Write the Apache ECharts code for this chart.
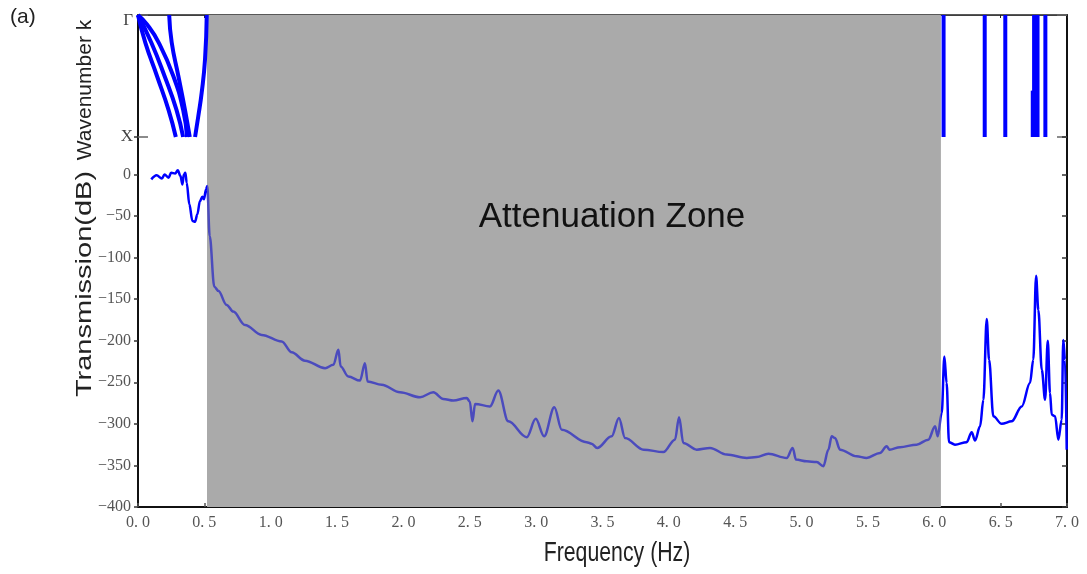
<!DOCTYPE html>
<html>
<head>
<meta charset="utf-8">
<script src="https://cdn.jsdelivr.net/npm/echarts@6/dist/echarts.min.js"></script>
<style>html,body{margin:0;padding:0;background:#fff;}#chart{width:1087px;height:574px;}</style>
</head>
<body>
<div id="chart"></div>
<script>
// ---- data ----
const xTicks = [0, 0.5, 1, 1.5, 2, 2.5, 3, 3.5, 4, 4.5, 5, 5.5, 6, 6.5, 7];
const yTicks = [0, -50, -100, -150, -200, -250, -300, -350, -400];
const kLabels = ['Γ', 'X'];
const attenuationZone = [0.52, 6.05];

// transmission [frequency Hz, dB]
const transmission = [
  [0.10,-6],[0.14,-1],[0.18,-5],[0.20,0],[0.23,-4],[0.25,2],[0.28,1],[0.30,5],[0.32,-2],
  [0.335,-12],[0.345,0],[0.357,2],[0.367,-10],[0.387,-36],[0.41,-56],[0.43,-57],[0.447,-48],
  [0.467,-32],[0.485,-27],[0.497,-30],[0.512,-18],[0.522,-14],[0.54,-74],[0.575,-135],
  [0.605,-140],[0.668,-157],[0.718,-165],[0.806,-181],[0.932,-193],[1.083,-201],[1.158,-214],
  [1.258,-224],[1.41,-233],[1.472,-229],[1.51,-211],[1.527,-231],[1.585,-243],[1.673,-248],
  [1.71,-227],[1.73,-249],[1.836,-253],[1.974,-262],[2.125,-268],[2.225,-262],[2.30,-270],
  [2.376,-272],[2.477,-269],[2.50,-273],[2.52,-297],[2.54,-276],[2.652,-279],[2.715,-260],
  [2.79,-297],[2.929,-316],[2.997,-294],[3.06,-315],[3.137,-280],[3.193,-307],[3.38,-322],
  [3.418,-324],[3.46,-329],[3.569,-315],[3.624,-293],[3.67,-317],[3.81,-331],[3.958,-334],
  [4.046,-319],[4.077,-292],[4.109,-323],[4.21,-331],[4.31,-329],[4.436,-337],[4.587,-341],
  [4.662,-340],[4.75,-336],[4.888,-341],[4.933,-329],[4.958,-343],[5.039,-345],[5.114,-346],
  [5.164,-351],[5.202,-331],[5.227,-315],[5.252,-317],[5.29,-331],[5.415,-339],[5.49,-341],
  [5.591,-335],[5.641,-327],[5.662,-331],[5.742,-328],[5.867,-325],[5.955,-319],[6.006,-303],
  [6.026,-315],[6.056,-287],[6.076,-219],[6.093,-251],[6.111,-322],[6.156,-325],[6.244,-322],
  [6.282,-310],[6.307,-320],[6.345,-303],[6.37,-271],[6.395,-174],[6.413,-223],[6.445,-291],
  [6.508,-300],[6.583,-297],[6.659,-279],[6.721,-251],[6.746,-223],[6.767,-122],[6.784,-163],
  [6.81,-235],[6.835,-271],[6.855,-200],[6.872,-263],[6.885,-289],[6.91,-291],[6.935,-319],
  [6.96,-295],[6.972,-199],[6.985,-223],[6.998,-331]
];

// band structure curves [frequency Hz, k (0 = Γ, 1 = X)]
const band1 = [[0,0],[0.055,0.226],[0.143,0.5],[0.23,0.777],[0.285,1]];
const band2 = [[0,0],[0.1,0.226],[0.2,0.5],[0.29,0.777],[0.34,1]];
const band3 = [[0,0],[0.07,0.08],[0.156,0.226],[0.266,0.5],[0.34,0.777],[0.37,1]];
const band4 = [[0.235,0],[0.254,0.226],[0.304,0.5],[0.354,0.777],[0.39,1]];
const band5 = [[0.518,0],[0.505,0.364],[0.48,0.636],[0.454,0.832],[0.43,1]];
const flatBands = [6.07, 6.38, 6.535, 6.752, 6.778, 6.837];
const partialBand = [[6.742,0.62],[6.742,1]];

// ---- chart ----
const chart = echarts.init(document.getElementById('chart'), null, {renderer:'canvas'});
const serif = 'Liberation Serif';
const blue = '#0000ff';

const bandSeries = [band1, band2, band3, band4, band5].map(d => ({
  type:'line', xAxisIndex:0, yAxisIndex:0, data:d, smooth:true, showSymbol:false,
  lineStyle:{color:blue, width:4}, z:3, silent:true
}));
flatBands.forEach(f => bandSeries.push({
  type:'line', xAxisIndex:0, yAxisIndex:0, data:[[f,0],[f,1]], showSymbol:false,
  lineStyle:{color:blue, width:4}, z:3, silent:true
}));
bandSeries.push({
  type:'line', xAxisIndex:0, yAxisIndex:0, data:partialBand, showSymbol:false,
  lineStyle:{color:blue, width:4}, z:3, silent:true
});

const shadeArea = {
  silent:true, itemStyle:{color:'#aaaaaa', opacity:1},
  data:[[{xAxis:attenuationZone[0]},{xAxis:attenuationZone[1]}]]
};

chart.setOption({
  animation:false,
  backgroundColor:'#ffffff',
  grid:[
    {left:138, top:15, width:929, height:122},
    {left:138, top:137, width:929, height:370}
  ],
  xAxis:[
    {gridIndex:0, type:'value', min:0, max:7, interval:0.5, position:'bottom',
     axisLine:{lineStyle:{color:'#999999', width:1}}, axisTick:{show:false}, axisLabel:{show:false}, splitLine:{show:false}},
    {gridIndex:0, type:'value', min:0, max:7, interval:0.5, position:'top',
     axisLine:{onZero:false, lineStyle:{color:'#222222', width:1.5}}, axisTick:{inside:true, length:3, lineStyle:{color:'#222'}}, axisLabel:{show:false}, splitLine:{show:false}},
    {gridIndex:1, type:'value', min:0, max:7, interval:0.5, position:'bottom',
     axisLine:{onZero:false, lineStyle:{color:'#111111', width:2}},
     axisTick:{inside:true, length:4, lineStyle:{color:'#555', width:1.5}},
     axisLabel:{color:'#555555', fontFamily:serif, fontSize:16, margin:8,
       formatter:v => xTicks.includes(v) ? v.toFixed(1).replace('.', '. ') : ''},
     splitLine:{show:false}}
  ],
  yAxis:[
    {gridIndex:0, type:'value', min:0, max:1, interval:1, inverse:true, position:'left',
     axisLine:{onZero:false, lineStyle:{color:'#111111', width:2}},
     axisTick:{inside:true, length:10, lineStyle:{color:'#666', width:1.5}},
     axisLabel:{color:'#444444', fontFamily:serif, fontSize:17, margin:5,
       formatter:v => v === 0 ? '{g|' + kLabels[0] + '}' : (v === 1 ? kLabels[1] : ''),
       rich:{g:{padding:[12,0,0,0], fontFamily:serif, fontSize:17, color:'#444444'}}},
     splitLine:{show:false}},
    {gridIndex:0, type:'value', min:0, max:1, interval:1, inverse:true, position:'right',
     axisLine:{onZero:false, lineStyle:{color:'#111111', width:2}},
     axisTick:{inside:true, length:10, lineStyle:{color:'#666', width:1.5}},
     axisLabel:{show:false}, splitLine:{show:false}},
    {gridIndex:1, type:'value', min:-400, max:45, interval:50, position:'left',
     axisLine:{onZero:false, lineStyle:{color:'#111111', width:2}},
     axisTick:{inside:false, length:4, lineStyle:{color:'#333', width:1.5}},
     axisLabel:{color:'#555555', fontFamily:serif, fontSize:16, margin:7,
       formatter:v => yTicks.includes(v) ? (v < 0 ? '\u2212' + Math.abs(v) : '0') : ''},
     splitLine:{show:false}},
    {gridIndex:1, type:'value', min:-400, max:45, interval:50, position:'right',
     axisLine:{onZero:false, lineStyle:{color:'#111111', width:2}},
     axisTick:{inside:true, length:5, lineStyle:{color:'#333', width:1.5}},
     axisLabel:{show:false}, splitLine:{show:false}}
  ],
  visualMap:[{
    type:'piecewise', show:false, dimension:0, seriesIndex:2,
    pieces:[
      {lt:attenuationZone[0], color:blue},
      {gte:attenuationZone[0], lte:attenuationZone[1], color:'#4b4bbd'},
      {gt:attenuationZone[1], color:blue}
    ]
  }],
  series:[
    {type:'line', xAxisIndex:2, yAxisIndex:2, data:[[1,-500]], showSymbol:false,
     lineStyle:{width:0, opacity:0}, z:1, silent:true, markArea:shadeArea},
    {type:'line', xAxisIndex:0, yAxisIndex:0, data:[[1,5]], showSymbol:false,
     lineStyle:{width:0, opacity:0}, z:1, silent:true, markArea:shadeArea},
    {type:'line', xAxisIndex:2, yAxisIndex:2, data:transmission, showSymbol:false,
     smooth:0.35, smoothMonotone:'x',
     lineStyle:{width:2.5}, z:3, silent:true}
  ].concat(bandSeries),
  graphic:[
    {type:'text', left:10, top:7, style:{text:'(a)', font:'21px "Liberation Sans"', fill:'#222'}},
    {type:'text', x:85, y:90, rotation:Math.PI/2,
     style:{text:'Wavenumber k', font:'21px "Liberation Sans"', fill:'#222', textAlign:'center', textVerticalAlign:'middle'}},
    {type:'text', x:85, y:284, rotation:Math.PI/2, scaleY:0.75,
     style:{text:'Transmission(dB)', font:'29px "Liberation Sans"', fill:'#222', textAlign:'center', textVerticalAlign:'middle'}},
    {type:'text', x:617, y:553, scaleX:0.76,
     style:{text:'Frequency (Hz)', font:'28px "Liberation Sans"', fill:'#222', textAlign:'center', textVerticalAlign:'middle'}},
    {type:'text', x:612, y:217, z:10,
     style:{text:'Attenuation Zone', font:'35px "Liberation Sans"', fill:'#111', textAlign:'center', textVerticalAlign:'middle'}}
  ]
});
</script>
</body>
</html>
